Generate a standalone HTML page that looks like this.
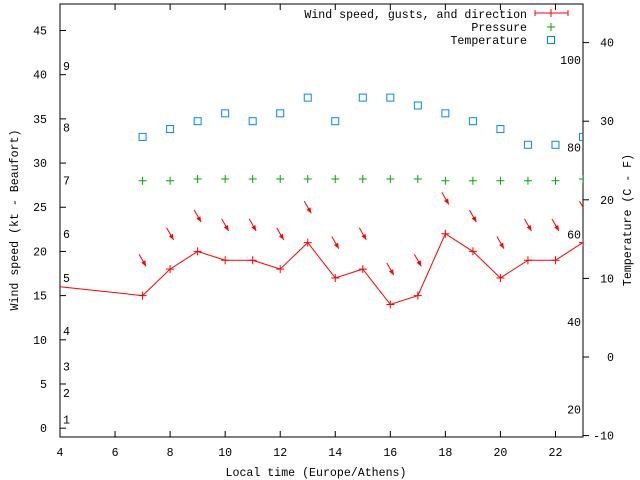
<!DOCTYPE html>
<html><head><meta charset="utf-8"><style>
body{margin:0;background:#fff}
svg{display:block}
text{font-family:"Liberation Mono","DejaVu Sans Mono",monospace;font-size:11.6px;fill:#000}
</style></head><body>
<svg id="c" width="640" height="480" xmlns="http://www.w3.org/2000/svg"></svg>
<script>
const hours=[7,8,9,10,11,12,13,14,15,16,17,18,19,20,21,22,23];
const windLineHours=[1,7,8,9,10,11,12,13,14,15,16,17,18,19,20,21,22,23];
const windSpeed=[17,15,18,20,19,19,18,21,17,18,14,15,22,20,17,19,19,21];
const gusts=[19,22,24,23,23,22,25,21,22,18,19,26,24,21,23,23,25];
const direction=[330,330,330,330,330,330,330,330,330,330,330,330,330,330,330,330,330];
const pressure=[28,28,28.2,28.2,28.2,28.2,28.2,28.2,28.2,28.2,28.2,28,28,28,28,28,28.2];
const temperature=[28,29,30,31,30,31,33,30,33,33,32,31,30,29,27,27,28];
const xTicks=[4,6,8,10,12,14,16,18,20,22];
const yTicks=[0,5,10,15,20,25,30,35,40,45];
const y2Ticks=[-10,0,10,20,30,40];
const fTicks=[20,40,60,80,100];
const beaufortLevels=[1,2,3,4,5,6,7,8,9];
const beaufortKt=[1,4,7,11,17,22,28,34,41];

const L=60,R=583,T=4,B=437;
const X=h=>L+(h-4)*(R-L)/19;
const Y=v=>B-(v+1)*(B-T)/49;
const Y2=c=>357-c*7.86;
const svg=document.getElementById('c');
const NS='http://www.w3.org/2000/svg';
function mk(tag,attrs,parent,name,txt){const e=document.createElementNS(NS,tag);for(const k in attrs)e.setAttribute(k,attrs[k]);


if(txt!==undefined)e.textContent=txt;(parent||svg).appendChild(e);return e;}
const defs=mk('defs',{},svg,'defs');
const cp=mk('clipPath',{id:'clip'},defs,'plot-clip');
mk('rect',{x:L,y:T,width:R-L,height:B-T},cp,'clip-rect');
mk('rect',{x:L,y:T,width:R-L,height:B-T,fill:'none',stroke:'#000','stroke-width':1},svg,'plot-frame');
xTicks.forEach(t=>{const x=X(t);
mk('line',{x1:x,x2:x,y1:B,y2:B-6,stroke:'#000'},svg,'x-tick');
mk('line',{x1:x,x2:x,y1:T,y2:T+6,stroke:'#000'},svg,'x-tick-top');
mk('text',{x:x,y:B+19,'text-anchor':'middle'},svg,'x-tick-label',t);});
yTicks.forEach(t=>{const y=Y(t);
mk('line',{x1:L,x2:L+6,y1:y,y2:y,stroke:'#000'},svg,'y-tick');
mk('text',{x:L-13,y:y+4,'text-anchor':'end'},svg,'y-tick-label',t);});
y2Ticks.forEach(t=>{const y=Y2(t);
mk('line',{x1:R,x2:R+6,y1:y,y2:y,stroke:'#000'},svg,'y2-tick');
mk('text',{x:R+31,y:y+4,'text-anchor':'end'},svg,'y2-tick-label',t);});
fTicks.forEach(f=>{const y=Y2((f-32)*5/9);
mk('text',{x:R-2,y:y+4,'text-anchor':'end'},svg,'fahrenheit-label',f);});
beaufortLevels.forEach((b,i)=>{mk('text',{x:L+3,y:Y(beaufortKt[i])+4},svg,'beaufort-label',b);});
mk('text',{x:316,y:476,'text-anchor':'middle'},svg,'x-axis-title','Local time (Europe/Athens)');
mk('text',{x:0,y:0,'text-anchor':'middle',transform:'translate(18,220) rotate(-90)'},svg,'y-axis-title','Wind speed (kt - Beaufort)');
mk('text',{x:0,y:0,'text-anchor':'middle',transform:'translate(631,220) rotate(-90)'},svg,'y2-axis-title','Temperature (C - F)');
const g=mk('g',{'clip-path':'url(#clip)'},svg,'series-group');
mk('polyline',{points:windLineHours.map((h,i)=>X(h)+','+Y(windSpeed[i])).join(' '),fill:'none',stroke:'#f00','stroke-width':1},g,'wind-speed-line');
windLineHours.forEach((h,i)=>{const x=X(h),y=Y(windSpeed[i]);
mk('path',{d:`M${x-4},${y}h8M${x},${y-4}v8`,stroke:'#f00','stroke-width':1},g,'wind-speed-point');});
hours.forEach((h,i)=>{const x=X(h),y=Y(gusts[i]);const a=(direction[i]+180)*Math.PI/180;
const dx=Math.sin(a)*7,dy=-Math.cos(a)*7;
const x1=x-dx,y1=y-dy,x2=x+dx,y2=y+dy;
const ang=Math.atan2(y2-y1,x2-x1);
const p1=[x2-6*Math.cos(ang-0.4),y2-6*Math.sin(ang-0.4)],p2=[x2-6*Math.cos(ang+0.4),y2-6*Math.sin(ang+0.4)];
mk('line',{x1:x1,y1:y1,x2:x2,y2:y2,stroke:'#f00'},g,'wind-direction-arrow');
mk('polygon',{points:`${x2},${y2} ${p1[0]},${p1[1]} ${p2[0]},${p2[1]}`,fill:'#f00'},g,'wind-arrow-head');});
hours.forEach((h,i)=>{const x=X(h),y=Y(pressure[i]);
mk('path',{d:`M${x-4},${y}h8M${x},${y-4}v8`,stroke:'#0a0','stroke-width':1},g,'pressure-point');});
hours.forEach((h,i)=>{const x=X(h),y=Y2(temperature[i]);
mk('rect',{x:x-3.5,y:y-3.5,width:7,height:7,fill:'none',stroke:'#08f','stroke-width':1},g,'temperature-point');});
mk('text',{x:527,y:18,'text-anchor':'end'},svg,'legend-wind-label','Wind speed, gusts, and direction');
mk('path',{d:'M535,13h33M535,10v6M568,10v6M551,9v8',stroke:'#f00'},svg,'legend-wind-sample');
mk('text',{x:527,y:31,'text-anchor':'end'},svg,'legend-pressure-label','Pressure');
mk('path',{d:'M547,27h8M551,23v8',stroke:'#0a0'},svg,'legend-pressure-sample');
mk('text',{x:527,y:44,'text-anchor':'end'},svg,'legend-temperature-label','Temperature');
mk('rect',{x:547.5,y:36.5,width:7,height:7,fill:'none',stroke:'#08f'},svg,'legend-temperature-sample');
</script>
</body></html>
